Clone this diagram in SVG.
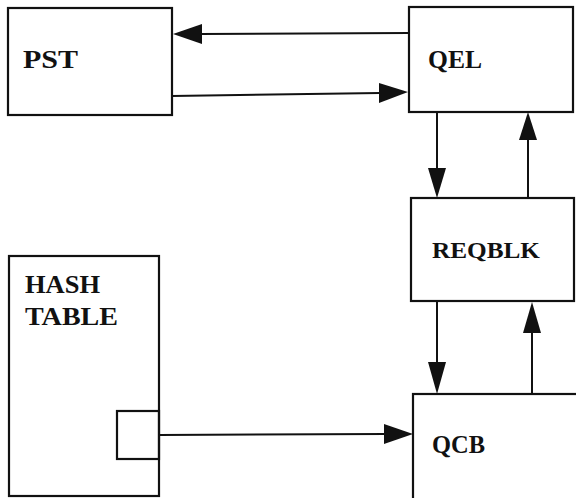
<svg xmlns="http://www.w3.org/2000/svg" width="576" height="498" viewBox="0 0 576 498">
<defs>
<style>
.box{fill:none;stroke:#111;stroke-width:2.2}
.lbl{font-family:"Liberation Serif","DejaVu Serif",serif;font-weight:bold;font-size:26px;fill:#111}
.con{stroke:#111;stroke-width:2;fill:none}
.head{fill:#111}
</style>
</defs>
<rect width="576" height="498" fill="#fff"/>
<g id="PST"><rect class="box" x="8" y="8" width="164" height="107"/><text class="lbl" x="23" y="68" textLength="55" lengthAdjust="spacingAndGlyphs">PST</text></g>
<g id="QEL"><rect class="box" x="409" y="7" width="164" height="105"/><text class="lbl" x="428" y="68" textLength="54" lengthAdjust="spacingAndGlyphs">QEL</text></g>
<g id="REQBLK"><rect class="box" x="411" y="198" width="163" height="103"/><text class="lbl" x="432" y="258" style="font-size:24px" textLength="108" lengthAdjust="spacingAndGlyphs">REQBLK</text></g>
<g id="QCB"><rect class="box" x="413" y="394" width="165" height="106"/><text class="lbl" x="432" y="453" textLength="53" lengthAdjust="spacingAndGlyphs">QCB</text></g>
<g id="HASH"><rect class="box" x="9" y="256" width="150" height="240"/><rect class="box" x="117" y="411" width="42" height="48"/><text class="lbl" x="25" y="293" textLength="75" lengthAdjust="spacingAndGlyphs">HASH</text><text class="lbl" x="25" y="325" textLength="93" lengthAdjust="spacingAndGlyphs">TABLE</text></g>
<g id="connectors">
<line class="con" x1="409" y1="33" x2="200" y2="34"/><polygon class="head" points="173,34 202,24 202,44"/>
<line class="con" x1="172" y1="96" x2="380" y2="93"/><polygon class="head" points="408,92 379,83 379,103"/>
<line class="con" x1="437" y1="112" x2="437" y2="170"/><polygon class="head" points="437,198 428,168 446,168"/>
<line class="con" x1="528" y1="198" x2="528" y2="138"/><polygon class="head" points="528,112 519,140 537,140"/>
<line class="con" x1="437" y1="301" x2="437" y2="364"/><polygon class="head" points="437,394 428,362 446,362"/>
<line class="con" x1="532" y1="394" x2="532" y2="330"/><polygon class="head" points="532,302 523,333 541,333"/>
<line class="con" x1="159" y1="435" x2="386" y2="434"/><polygon class="head" points="413,434 384,424 384,444"/>
</g>
</svg>
